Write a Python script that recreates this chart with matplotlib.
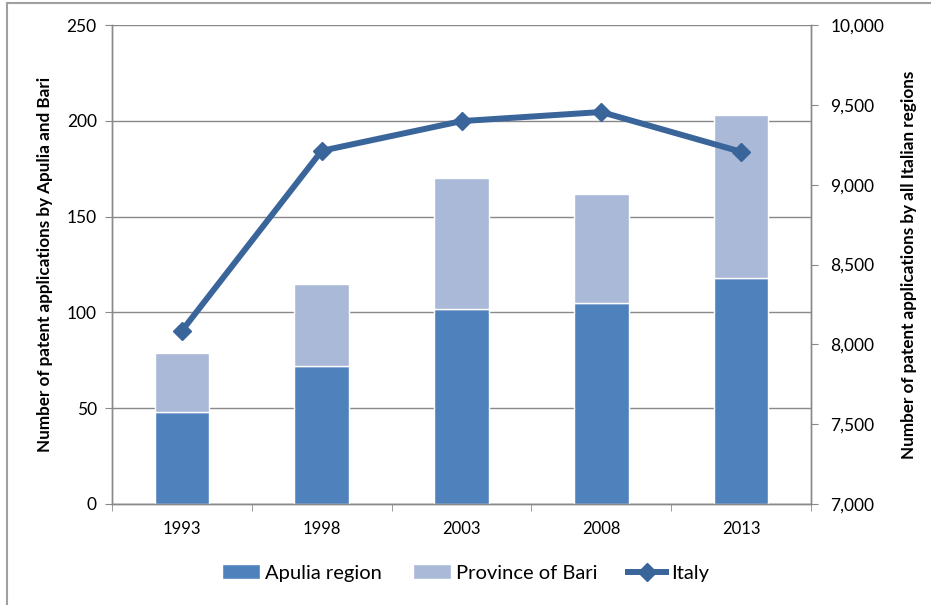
import matplotlib
matplotlib.use("Agg")
import matplotlib.pyplot as plt
from matplotlib.ticker import FuncFormatter, FixedLocator
import numpy as np

plt.rcParams['font.family'] = ['Lato', 'DejaVu Sans']

years = ["1993", "1998", "2003", "2008", "2013"]
apulia = [48, 72, 102, 105, 118]
bari = [31, 43, 68, 57, 85]
italy = [8085, 9212, 9398, 9455, 9206]

c_apulia = "#4F81BD"
c_bari = "#AAB9D7"
c_italy = "#3A659B"
grid_c = "#898989"

fig = plt.figure(figsize=(9.31, 6.05), dpi=100)
W, H = 931, 605
ax = fig.add_axes([112 / W, 1 - 504 / H, (811 - 112) / W, (504 - 25) / H])
ax2 = ax.twinx()

x = np.arange(len(years))
ax.bar(x, apulia, width=0.39, color=c_apulia, edgecolor="white", linewidth=1, zorder=3, label="Apulia region")
ax.bar(x, bari, width=0.39, bottom=apulia, color=c_bari, edgecolor="white", linewidth=1, zorder=3, label="Province of Bari")
ax2.plot(x, italy, color=c_italy, lw=4.3, marker="D", markersize=9.5, zorder=5, label="Italy")

ax.set_xlim(-0.5, 4.5)
ax.set_ylim(0, 250)
ax2.set_ylim(7000, 10000)
ax.set_yticks(np.arange(0, 251, 50))
ax2.set_yticks(np.arange(7000, 10001, 500))
ax2.yaxis.set_major_formatter(FuncFormatter(lambda v, p: f"{int(v):,}"))

ax.set_xticks(x)
ax.set_xticklabels(years)
ax.xaxis.set_minor_locator(FixedLocator(np.arange(-0.5, 4.6, 1)))
ax.tick_params(axis="x", which="major", length=0, pad=12, labelsize=12)
ax.tick_params(axis="x", which="minor", length=5, color=grid_c, direction="out")
ax.tick_params(axis="y", length=5, color=grid_c, pad=6, labelsize=12.5)
ax2.tick_params(axis="y", length=5, color=grid_c, pad=9, labelsize=12.5)

ax.grid(axis="y", color=grid_c, lw=1, zorder=0)
ax.set_axisbelow(True)
for a in (ax, ax2):
    a.spines["top"].set_visible(False)
    for s in ("left", "right", "bottom"):
        a.spines[s].set_color(grid_c)
        a.spines[s].set_linewidth(1)
ax2.set_zorder(ax.get_zorder() + 1)
ax2.patch.set_visible(False)

ax.set_ylabel("Number of patent applications by Apulia and Bari", fontsize=12.3, fontweight="bold", labelpad=10)
ax2.set_ylabel("Number of patent applications by all Italian regions", fontsize=12.3, fontweight="bold", labelpad=12)

h1, l1 = ax.get_legend_handles_labels()
h2, l2 = ax2.get_legend_handles_labels()
fig.legend(h1 + h2, l1 + l2, loc="center", bbox_to_anchor=(0.5, 1 - 573 / H), ncol=3,
           frameon=False, fontsize=14.5, handlelength=1.9, handletextpad=0.25, columnspacing=1.5)

# chart border (partially visible)
fig.add_artist(plt.Line2D([7 / W, 7 / W], [0, 1 - 3 / H], transform=fig.transFigure, color="#A0A0A0", lw=1.5))
fig.add_artist(plt.Line2D([7 / W, 1], [1 - 3 / H, 1 - 3 / H], transform=fig.transFigure, color="#A0A0A0", lw=1.5))

fig.savefig("out.png", dpi=100)
